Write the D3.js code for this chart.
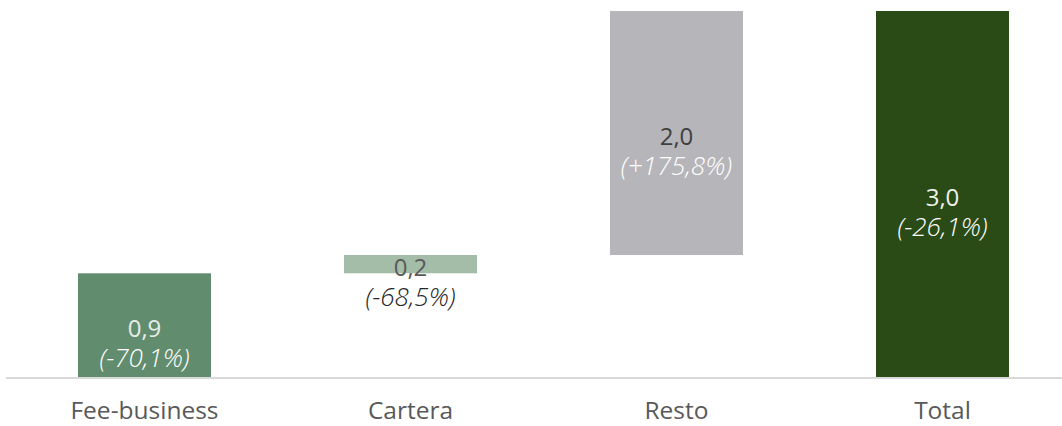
<!DOCTYPE html>
<html><head><meta charset="utf-8">
<script src="https://cdn.jsdelivr.net/npm/d3@7"></script>
<style>body{margin:0;background:#fff}svg{display:block}text{font-family:"Open Sans",sans-serif}</style>
</head><body><svg id="c" width="1062" height="426"></svg>
<script>
const categories = ["Fee-business", "Cartera", "Resto", "Total"];
const deltas = [0.85, 0.15, 2.0, 3.0];        // bar heights (Total is from zero)
const isTotal = [false, false, false, true];
const valueLabels = ["0,9", "0,2", "2,0", "3,0"];
const pctLabels = ["(-70,1%)", "(-68,5%)", "(+175,8%)", "(-26,1%)"];
const colors = ["#628c6e", "#a4bda9", "#b6b5ba", "#2a4b15"];
const valueColors = ["#e6ede7", "#595959", "#404040", "#eef2ec"];
const pctColors = ["#ffffff", "#262626", "#ffffff", "#ffffff"];

const svg = d3.select("#c");
const x = d3.scaleBand().domain(categories).range([11.5, 1075.5]).paddingInner(0.5).paddingOuter(0.25);
const y = d3.scaleLinear().domain([0, 3.0]).range([377, 11]);

let run = 0;
const bars = categories.map((c, i) => {
  let y0, y1;
  if (isTotal[i]) { y0 = 0; y1 = deltas[i]; }
  else { y0 = run; y1 = run + deltas[i]; run = y1; }
  return {c, y0, y1, i};
});

svg.selectAll("rect.bar").data(bars).join("rect")
  .attr("x", d => x(d.c)).attr("width", x.bandwidth())
  .attr("y", d => y(d.y1)).attr("height", d => y(d.y0) - y(d.y1))
  .attr("fill", d => colors[d.i]);

// axis line
svg.append("line").attr("x1", 6).attr("x2", 1062).attr("y1", 378).attr("y2", 378)
  .attr("stroke", "#d9d9d9").attr("stroke-width", 2);

// category labels
const xAxis = d3.axisBottom(x).tickSize(0).tickPadding(0);
const ax = svg.append("g").attr("transform", "translate(0,419)").call(xAxis);
ax.select(".domain").remove();
ax.selectAll("text").attr("font-size", 24.5).attr("fill", "#595959")
  .attr("dy", "0").attr("y", 0).attr("font-weight", 400)
  .style("font-family", "'Open Sans',sans-serif");

// data labels: one two-line label per bar
const g = svg.append("g");
bars.forEach(d => {
  const cx = x(d.c) + x.bandwidth() / 2;
  const mid = (y(d.y0) + y(d.y1)) / 2;
  const t = g.append("text").attr("text-anchor", "middle");
  t.append("tspan").attr("x", cx).attr("y", mid + 11.5)
    .attr("font-size", 24).attr("font-weight", 400)
    .attr("fill", valueColors[d.i]).text(valueLabels[d.i]);
  t.append("tspan").attr("x", cx).attr("y", mid + 42)
    .attr("font-size", 26).attr("font-style", "italic").attr("font-weight", 300)
    .attr("fill", pctColors[d.i]).text(pctLabels[d.i]);
});
</script></body></html>
